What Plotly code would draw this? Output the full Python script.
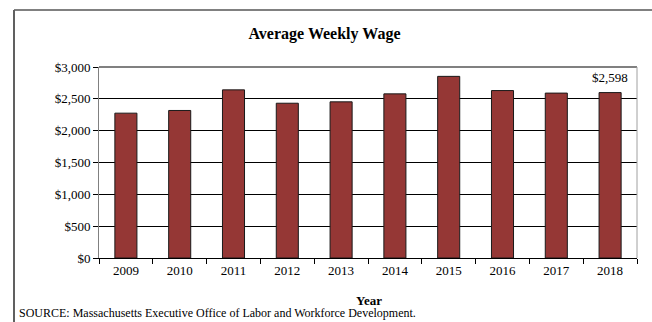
import plotly.graph_objects as go

years = ["2009", "2010", "2011", "2012", "2013", "2014", "2015", "2016", "2017", "2018"]
wages = [2275, 2317, 2641, 2431, 2453, 2578, 2853, 2630, 2590, 2598]
y_ticks = [0, 500, 1000, 1500, 2000, 2500, 3000]
y_tick_labels = ["$0", "$500", "$1,000", "$1,500", "$2,000", "$2,500", "$3,000"]
title_text = "Average Weekly Wage"
x_title = "Year"
source_text = "SOURCE: Massachusetts Executive Office of Labor and Workforce Development."

W, H = 652, 322
L, R, T, B = 99, 15, 67, 64
pw, ph = W - L - R, H - T - B

def px_x(x):
    return (x - L) / pw

def px_y(y):
    return (H - B - y) / ph

FONT = "Liberation Serif"

fig = go.Figure(go.Bar(
    x=years, y=wages,
    marker=dict(color="#953735", line=dict(color="#1a1a1a", width=1)),
    width=0.41,
))

fig.update_layout(
    width=W, height=H,
    margin=dict(l=L, r=R, t=T, b=B),
    paper_bgcolor="white", plot_bgcolor="white",
    font=dict(family=FONT, size=13, color="black"),
    showlegend=False,
    title=dict(text="<b>" + title_text + "</b>", x=px_x(324.5), xref="paper",
               xanchor="center", y=1 - 33 / H, yanchor="middle", yref="container",
               font=dict(family=FONT, size=16, color="black")),
)

fig.update_xaxes(
    type="category", range=[-0.5, len(years) - 0.5],
    showline=True, linecolor="black", linewidth=1,
    ticks="outside", ticklen=5, tickcolor="black", tickson="boundaries",
    showgrid=False, tickangle=0, tickfont=dict(family=FONT, size=13),
)
fig.update_yaxes(
    range=[0, 3000], tickvals=y_ticks, ticktext=y_tick_labels,
    showgrid=True, gridcolor="black", gridwidth=1,
    showline=True, linecolor="#808080", linewidth=1,
    ticks="outside", ticklen=5, tickcolor="black",
    zeroline=False, tickfont=dict(family=FONT, size=13),
)

shapes = [
    dict(type="line", xref="paper", yref="paper", x0=0, x1=1, y0=1, y1=1,
         line=dict(color="#808080", width=2)),
    dict(type="line", xref="paper", yref="paper", x0=1, x1=1, y0=0, y1=1,
         line=dict(color="#a0a0a0", width=1)),
    dict(type="line", xref="paper", yref="paper", x0=px_x(14), x1=px_x(652),
         y0=px_y(10), y1=px_y(10), line=dict(color="#808080", width=2)),
    dict(type="line", xref="paper", yref="paper", x0=px_x(14), x1=px_x(14),
         y0=px_y(10), y1=px_y(322), line=dict(color="#606060", width=2)),
]
fig.update_layout(shapes=shapes)

last = len(years) - 1
annotations = [
    dict(x=last, y=wages[last], xref="x", yref="y", text="$" + format(wages[last], ","),
         showarrow=False, yanchor="bottom", yshift=6,
         font=dict(family=FONT, size=13, color="black")),
    dict(x=px_x(369), y=px_y(300), xref="paper", yref="paper", text="<b>" + x_title + "</b>",
         showarrow=False, xanchor="center", yanchor="middle",
         font=dict(family=FONT, size=13, color="black")),
    dict(x=px_x(17), y=px_y(313), xref="paper", yref="paper", text=source_text,
         showarrow=False, xanchor="left", yanchor="middle",
         font=dict(family=FONT, size=12, color="black")),
]
fig.update_layout(annotations=annotations)

fig.write_html("out.html", config={"displayModeBar": False},
               post_script="document.body.style.margin='0';document.body.style.padding='0';")
